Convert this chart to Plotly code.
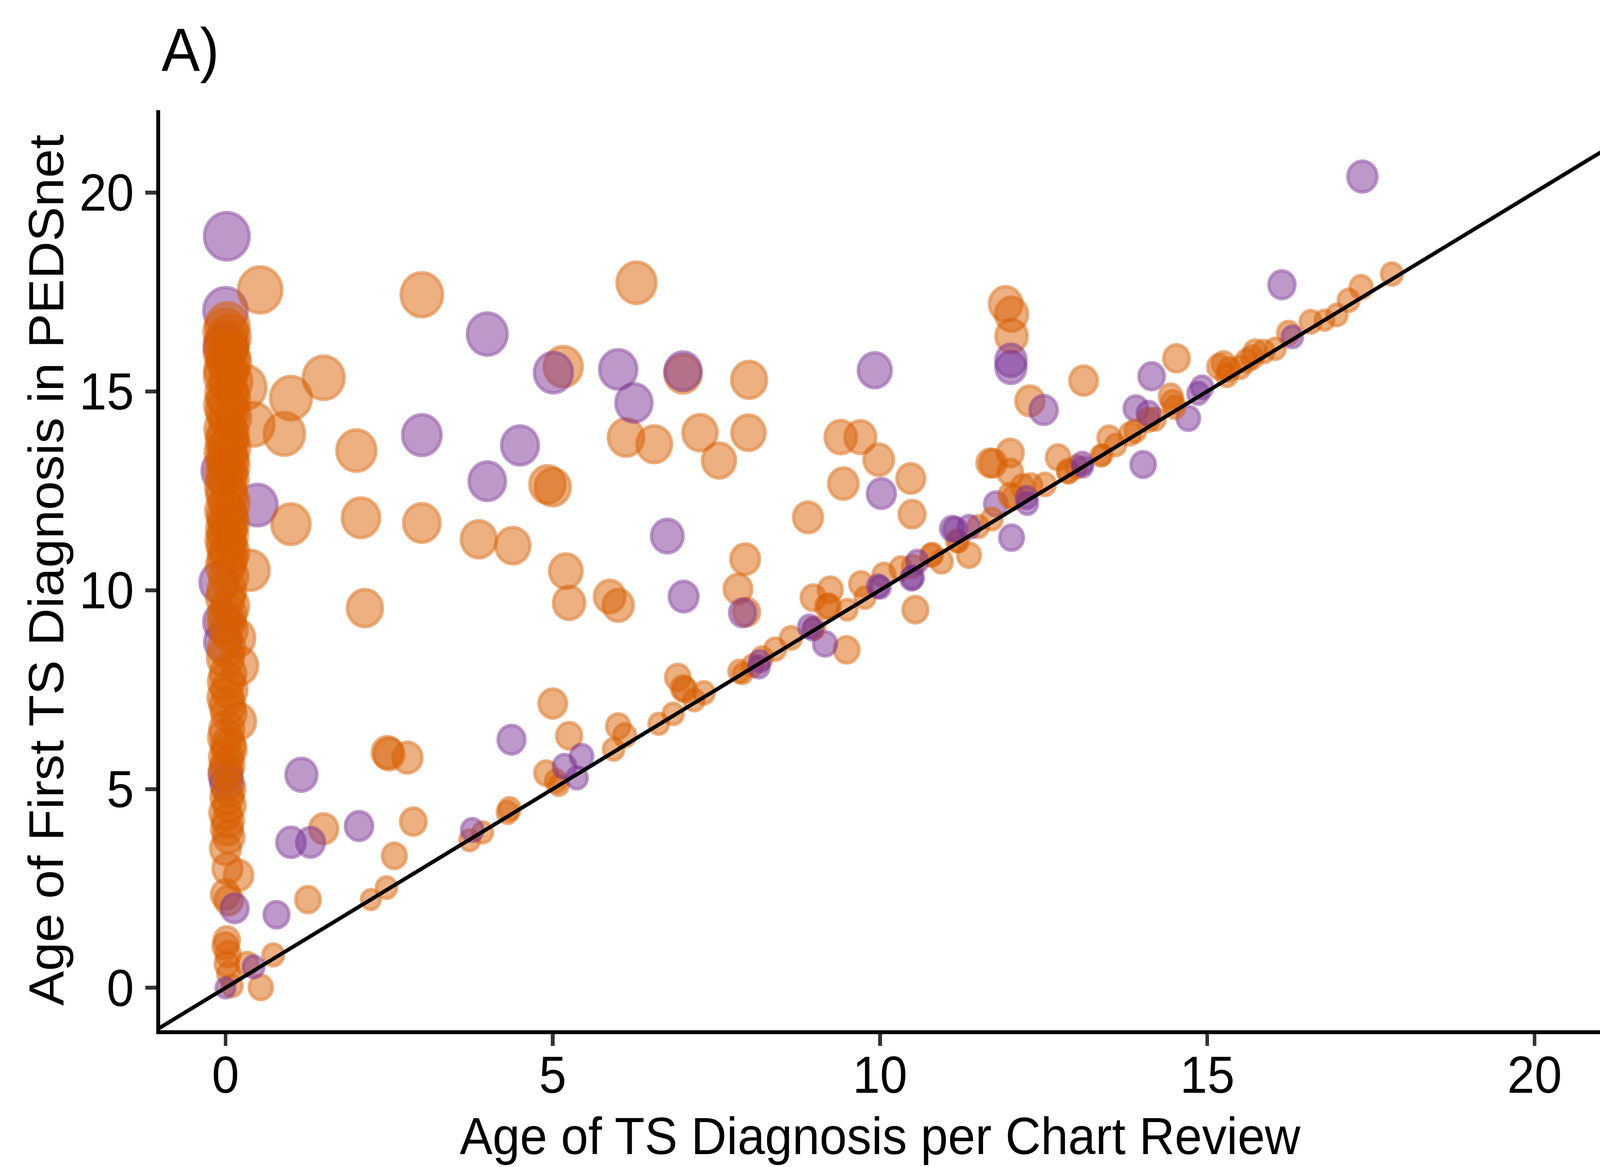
import math

import plotly.graph_objects as go

# --- data: (age per chart review, age of first TS dx in PEDSnet)
# group A is drawn orange, group B purple

# points stacked at chart-review age ~0
column_b_x = [0.02, 0.0, 0.0, 0.49, -0.05, -0.1, -0.05, -0.04, 0.0, 0.02]
column_b_y = [18.9, 17.03, 16.13, 12.14, 13.0, 10.2, 9.2, 8.7, 5.35, 5.15]

column_a_x = [0.03, 0.0, 0.05, 0.02, 0.0, 0.04, 0.06, 0.01, 0.0, 0.08,
              0.3, 0.02, 0.05, 0.0, 0.03, 0.07, 0.43, 0.0, 0.04, 0.02,
              0.06, 0.0, 0.03, 0.05, 0.01, 0.04, 0.0, 0.02, 0.06, 0.0,
              0.03, 0.05, 0.01, 0.04, 0.0, 0.02, 0.06, 0.03, 0.0, 0.38,
              0.05, 0.02, 0.0, 0.07, 0.03, 0.01, 0.05, 0.17, 0.02, 0.0,
              0.22, 0.04, 0.01, 0.06, 0.0, 0.03, 0.05, 0.2, 0.02, 0.0,
              0.04, 0.06, 0.01, 0.03, 0.0, 0.05, 0.02, 0.06, 0.0, 0.04,
              0.02, 0.05, 0.0, 0.03, 0.2, 0.0, 0.05, 0.02, 0.0, 0.04,
              0.02, 0.05, 0.1]
column_a_y = [16.65, 16.5, 16.35, 16.2, 16.0, 15.85, 15.7, 15.55, 15.4, 15.25,
              15.1, 14.95, 14.8, 14.65, 14.5, 14.35, 14.17, 14.05, 13.9, 13.75,
              13.6, 13.45, 13.3, 13.15, 12.95, 12.8, 12.6, 12.4, 12.2, 12.0,
              11.85, 11.7, 11.55, 11.4, 11.25, 11.1, 10.95, 10.8, 10.6, 10.5,
              10.35, 10.0, 9.8, 9.6, 9.4, 9.2, 9.0, 8.8, 8.55, 8.3,
              8.1, 7.9, 7.7, 7.5, 7.3, 7.1, 6.9, 6.7, 6.5, 6.3,
              6.1, 6.0, 5.8, 5.6, 5.45, 5.0, 4.8, 4.6, 4.4, 4.2,
              4.0, 3.8, 3.5, 3.0, 2.83, 2.35, 2.2, 1.2, 1.05, 0.85,
              0.6, 0.35, 0.05]

# scattered points away from the diagonal
scatter_a_x = [0.53, 1.0, 0.9, 1.5, 1.0, 2.0, 2.07, 2.13, 3.0, 3.0,
               3.87, 4.39, 5.16, 4.92, 5.0, 6.28, 6.12, 6.55, 7.25, 7.54,
               7.99, 6.99, 8.0, 5.2, 5.25, 5.87, 6.0, 7.94, 7.83, 7.96,
               8.9, 5.0, 5.25, 1.5, 2.47, 2.5, 2.78, 2.87, 2.58, 2.46,
               2.22, 1.26, 0.73, 0.33, 0.54, 11.92, 12.01, 12.01, 12.29, 13.11,
               14.53, 9.4, 9.7, 9.98, 9.44, 10.47, 10.49, 10.54, 9.49, 11.73,
               11.99, 11.99, 12.72]
scatter_a_y = [17.55, 14.83, 13.93, 15.34, 11.66, 13.51, 11.82, 9.55, 17.43, 11.69,
               11.28, 11.12, 15.62, 12.66, 12.59, 17.73, 13.84, 13.67, 13.96, 13.26,
               13.96, 15.44, 15.29, 10.48, 9.68, 9.84, 9.62, 10.78, 10.03, 9.45,
               11.83, 7.15, 6.34, 4.0, 5.92, 5.88, 5.79, 4.18, 3.32, 2.52,
               2.22, 2.22, 0.83, 0.6, 0.01, 17.2, 16.94, 16.39, 14.76, 15.27,
               15.83, 13.85, 13.85, 13.28, 12.68, 12.81, 11.91, 9.51, 8.5, 13.19,
               13.45, 12.96, 13.34]

scatter_b_x = [4.0, 5.01, 6.0, 6.24, 6.99, 3.0, 4.5, 4.0, 6.75, 7.0,
               7.9, 1.16, 1.0, 1.3, 2.04, 0.78, 0.14, 0.43, 0.0, 4.37,
               9.92, 12.0, 12.0, 12.5, 14.15, 10.02, 12.01, 14.02, 11.77, 17.37,
               16.14, 9.16, 13.91, 14.71]
scatter_b_y = [16.44, 15.47, 15.55, 14.71, 15.51, 13.9, 13.64, 12.74, 11.36, 9.84,
               9.43, 5.36, 3.66, 3.66, 4.07, 1.84, 2.0, 0.53, 0.0, 6.24,
               15.53, 15.78, 15.6, 14.53, 15.38, 12.43, 11.32, 13.16, 12.17, 20.4,
               17.68, 8.65, 14.57, 14.32]

# points lying close to the identity line
diag_a_x = [3.73, 3.93, 4.34, 4.31, 4.9, 5.09, 5.05, 6.0, 6.1, 5.93,
            6.62, 6.84, 6.91, 6.99, 7.02, 7.16, 7.31, 7.85, 7.9, 8.4,
            8.64, 8.98, 9.24, 9.19, 9.22, 9.5, 9.71, 9.77, 10.06, 10.32,
            10.78, 10.94, 11.2, 11.17, 11.36, 11.71, 11.99, 12.04, 12.18, 12.3,
            12.52, 11.68, 12.87, 12.88, 13.37, 13.4, 13.5, 13.82, 14.1, 14.44,
            14.47, 14.5, 15.18, 15.25, 15.3, 15.33, 15.5, 15.6, 15.69, 15.73,
            15.86, 16.04, 16.24, 16.58, 16.79, 16.98, 17.16, 17.35, 17.82, 8.05,
            8.2, 9.0, 10.5, 10.8, 11.5, 13.0, 13.6, 13.9, 14.2]
diag_a_y = [3.71, 3.91, 4.5, 4.41, 5.4, 5.1, 5.2, 6.58, 6.35, 6.0,
            6.64, 6.89, 7.81, 7.54, 7.5, 7.24, 7.42, 7.96, 7.9, 8.52,
            8.8, 9.81, 10.01, 9.59, 9.6, 9.51, 10.16, 9.81, 10.38, 10.55,
            10.88, 10.72, 11.23, 11.24, 10.88, 11.79, 12.39, 12.33, 12.6, 12.63,
            12.66, 13.2, 13.0, 12.97, 13.38, 13.4, 13.83, 13.93, 14.28, 14.88,
            14.73, 14.6, 15.62, 15.69, 15.4, 15.55, 15.6, 15.77, 15.86, 16.0,
            16.0, 16.07, 16.47, 16.75, 16.79, 16.92, 17.29, 17.62, 17.95, 8.1,
            8.3, 9.05, 10.6, 10.9, 11.6, 13.1, 13.65, 14.0, 14.3]

diag_b_x = [3.77, 5.18, 5.44, 5.37, 8.15, 8.16, 8.92, 8.97, 9.97, 10.0,
            10.57, 10.5, 10.48, 11.15, 11.36, 11.1, 12.25, 12.24, 13.1, 13.09,
            14.1, 14.92, 14.86, 16.3]
diag_b_y = [3.97, 5.57, 5.82, 5.28, 8.07, 8.21, 9.09, 9.02, 10.1, 10.07,
            10.72, 10.32, 10.29, 11.53, 11.59, 11.55, 12.18, 12.33, 13.1, 13.19,
            14.45, 15.1, 14.95, 16.37]

x_ticks = [0, 5, 10, 15, 20]
y_ticks = [0, 5, 10, 15, 20]

W, H = 4329, 2987
COLORS = {"A": (217, 95, 2), "B": (123, 50, 148)}
ALPHA = 0.7
STROKE = 9
D_MIN, D_MAX = 60, 130  # px, outer diameter for the smallest / largest gap

# point size shows |PEDSnet age - chart age| (area scale, like ggplot scale_size)
all_x = column_a_x + column_b_x + scatter_a_x + scatter_b_x + diag_a_x + diag_b_x
all_y = column_a_y + column_b_y + scatter_a_y + scatter_b_y + diag_a_y + diag_b_y
max_gap = max(abs(b - a) for a, b in zip(all_x, all_y))


def point_sizes(xs, ys):
    return [D_MIN + (D_MAX - D_MIN) * math.sqrt(abs(b - a) / max_gap) - STROKE
            for a, b in zip(xs, ys)]


def rgba(rgb, a):
    return f"rgba({rgb[0]},{rgb[1]},{rgb[2]},{a})"


fig = go.Figure()

layers = [
    (column_b_x, column_b_y, "B"),
    (column_a_x, column_a_y, "A"),
    (scatter_a_x, scatter_a_y, "A"),
    (scatter_b_x, scatter_b_y, "B"),
    (diag_a_x, diag_a_y, "A"),
    (diag_b_x, diag_b_y, "B"),
]
for xs, ys, grp in layers:
    fig.add_trace(go.Scatter(
        x=xs, y=ys, mode="markers", showlegend=False,
        marker=dict(
            size=point_sizes(xs, ys),
            color=rgba(COLORS[grp], ALPHA),
            line=dict(color=rgba(COLORS[grp], ALPHA), width=STROKE),
        ),
    ))

# identity line
fig.add_trace(go.Scatter(
    x=[-2, 23], y=[-2, 23], mode="lines", showlegend=False,
    line=dict(color="black", width=10),
))

font = "Liberation Sans, Arial, Helvetica, sans-serif"
axis_common = dict(
    showline=True, linecolor="black", linewidth=10,
    ticks="outside", ticklen=30, tickwidth=10, tickcolor="#333333",
    showgrid=False, zeroline=False, automargin=False,
    tickfont=dict(family=font, size=133, color="black"),
)

fig.update_layout(
    width=W, height=H,
    paper_bgcolor="white", plot_bgcolor="white",
    margin=dict(l=433, r=0, t=282, b=350),
    xaxis=dict(range=[-1.0, 21.0], tickvals=x_ticks, ticklabelstandoff=-40,
               **axis_common),
    yaxis=dict(range=[-1.066, 22.07], tickvals=y_ticks, ticklabelstandoff=4,
               **axis_common),
    annotations=[
        dict(text="A)", xref="paper", yref="paper", x=0.0005, y=1.028,
             xanchor="left", yanchor="bottom", showarrow=False,
             font=dict(family=font, size=156, color="black")),
        dict(text="Age of TS Diagnosis per Chart Review", xref="paper", yref="paper",
             x=0.5, y=-0.1151, xanchor="center", yanchor="middle", showarrow=False,
             font=dict(family=font, size=133, color="black")),
        dict(text="Age of First TS Diagnosis in PEDSnet", xref="paper", yref="paper",
             x=-0.0791, y=0.5, xanchor="center", yanchor="middle", showarrow=False,
             textangle=-90, font=dict(family=font, size=133, color="black")),
    ],
)

# fit the fixed-size figure to whatever viewport the page gets
fit_js = """
var gd = document.getElementById('{plot_id}');
document.documentElement.style.overflow = 'hidden';
document.body.style.margin = '0';
document.body.style.overflow = 'hidden';
var sx = window.innerWidth / %d, sy = window.innerHeight / %d;
gd.style.transformOrigin = '0 0';
gd.style.transform = 'scale(' + sx + ',' + sy + ')';
gd.parentElement.style.width = window.innerWidth + 'px';
gd.parentElement.style.height = window.innerHeight + 'px';
gd.parentElement.style.overflow = 'hidden';
""" % (W, H)

fig.write_html("out.html", post_script=fit_js, config={"displayModeBar": False})
